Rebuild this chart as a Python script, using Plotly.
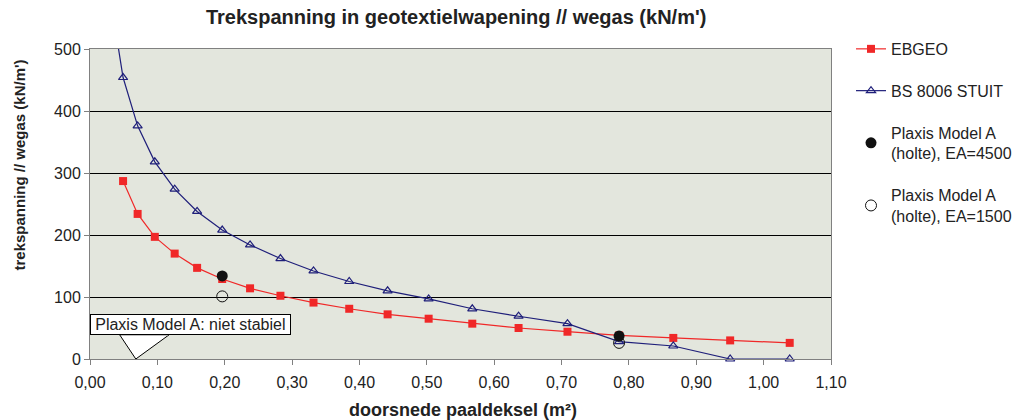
import plotly.graph_objects as go

# Data
area = [0.0491, 0.0707, 0.0962, 0.1257, 0.1590, 0.1963, 0.2376, 0.2827, 0.3318,
        0.3848, 0.4418, 0.5027, 0.5675, 0.6362, 0.7088, 0.7854, 0.8659, 0.9503, 1.0387]
ebgeo = [287, 234, 197, 170, 147, 129, 114, 102, 91, 81, 72, 65, 57, 50, 44, 38, 34, 30, 26]

bs_area = [0.0314] + area
bs8006 = [575, 454, 376, 318, 274, 238, 208, 184, 162, 142, 125, 110, 97, 81, 69, 57, 28, 21, 0, 0]

plaxis_area = [0.1963, 0.7854]
plaxis_4500 = [134, 37]
plaxis_1500 = [101, 26]

x_ticks = [0.0, 0.1, 0.2, 0.3, 0.4, 0.5, 0.6, 0.7, 0.8, 0.9, 1.0, 1.1]
y_ticks = [0, 100, 200, 300, 400, 500]

callout_x = 0.068
callout_text = "Plaxis Model A: niet stabiel"

FONT = "Liberation Sans, Arial, sans-serif"
TXT = "#222222"

fig = go.Figure()
fig.add_trace(go.Scatter(
    x=area, y=ebgeo, mode="lines+markers", name="EBGEO",
    line=dict(color="#f02828", width=1.2),
    marker=dict(symbol="square", size=8, color="#f02828"),
    legendgroup="a", cliponaxis=True))
fig.add_trace(go.Scatter(
    x=bs_area, y=bs8006, mode="lines+markers", name="BS 8006 STUIT",
    line=dict(color="#1f1f7a", width=1.2),
    marker=dict(symbol="triangle-up-open", size=8, color="#1f1f7a", line=dict(width=1.2)),
    legendgroup="b", cliponaxis=False))
fig.add_trace(go.Scatter(
    x=plaxis_area, y=plaxis_4500, mode="markers",
    name="Plaxis Model A<br>(holte), EA=4500",
    marker=dict(symbol="circle", size=11, color="#111111"),
    legendgroup="c", cliponaxis=False))
fig.add_trace(go.Scatter(
    x=plaxis_area, y=plaxis_1500, mode="markers",
    name="Plaxis Model A<br>(holte), EA=1500",
    marker=dict(symbol="circle-open", size=11, color="#111111", line=dict(width=1)),
    legendgroup="d", cliponaxis=False))

# callout pointer (pixel offsets relative to the tip on the x axis)
fig.add_shape(type="path", xref="x", yref="y", xsizemode="pixel", ysizemode="pixel",
              xanchor=callout_x, yanchor=0,
              path="M -16,24 L 0,0 L 33,24 Z",
              fillcolor="white", line=dict(color="black", width=1), layer="above")
fig.add_annotation(x=callout_x, y=0, xref="x", yref="y", text="\u2009" + callout_text + "\u2009",
                   showarrow=False, xshift=55, yshift=35,
                   font=dict(family=FONT, size=16, color=TXT),
                   bgcolor="white", bordercolor="black", borderwidth=1, borderpad=1)
fig.add_shape(type="line", xref="x", yref="y", xsizemode="pixel", ysizemode="pixel",
              xanchor=callout_x, yanchor=0, x0=-15, x1=32, y0=24.5, y1=24.5,
              line=dict(color="white", width=2), layer="above")

# axis titles placed as in the reference
fig.add_annotation(text="<b>doorsnede paaldeksel (m²)</b>", xref="paper", yref="paper",
                   x=0.503, y=-0.165, xanchor="center", yanchor="middle", showarrow=False,
                   font=dict(family=FONT, size=18, color=TXT))
fig.add_annotation(text="<b>trekspanning // wegas (kN/m')</b>", xref="paper", yref="paper",
                   x=-0.095, y=0.626, xanchor="center", yanchor="middle", showarrow=False,
                   textangle=-90, font=dict(family=FONT, size=15, color=TXT))

fig.update_layout(
    width=1032, height=420,
    margin=dict(l=90, r=201, t=49, b=61),
    paper_bgcolor="white", plot_bgcolor="#e3e6dd",
    separators=",.",
    font=dict(family=FONT, size=16, color=TXT),
    title=dict(text="<b>Trekspanning in geotextielwapening // wegas (kN/m')</b>",
               x=0.442, xanchor="center", y=0.96, yanchor="middle",
               font=dict(size=20, color=TXT)),
    showlegend=True,
    legend=dict(x=1.027, y=1.055, xanchor="left", yanchor="top",
                font=dict(size=16, color=TXT), bgcolor="rgba(0,0,0,0)",
                tracegroupgap=18, traceorder="grouped", itemwidth=30),
)
fig.update_xaxes(range=[0, 1.1], tickvals=x_ticks, tickformat=".2f",
                 showgrid=False, zeroline=False,
                 showline=True, linecolor="#808080", linewidth=1, mirror=True,
                 ticks="outside", ticklen=5, tickcolor="#808080", ticklabelstandoff=4,
                 tickfont=dict(size=16, color=TXT))
fig.update_yaxes(range=[0, 500], tickvals=y_ticks,
                 showgrid=True, gridcolor="#000000", gridwidth=1, zeroline=False,
                 showline=True, linecolor="#808080", linewidth=1, mirror=True,
                 ticks="outside", ticklen=5, tickcolor="#808080",
                 tickfont=dict(size=16, color=TXT))

fig.write_html("out.html")
